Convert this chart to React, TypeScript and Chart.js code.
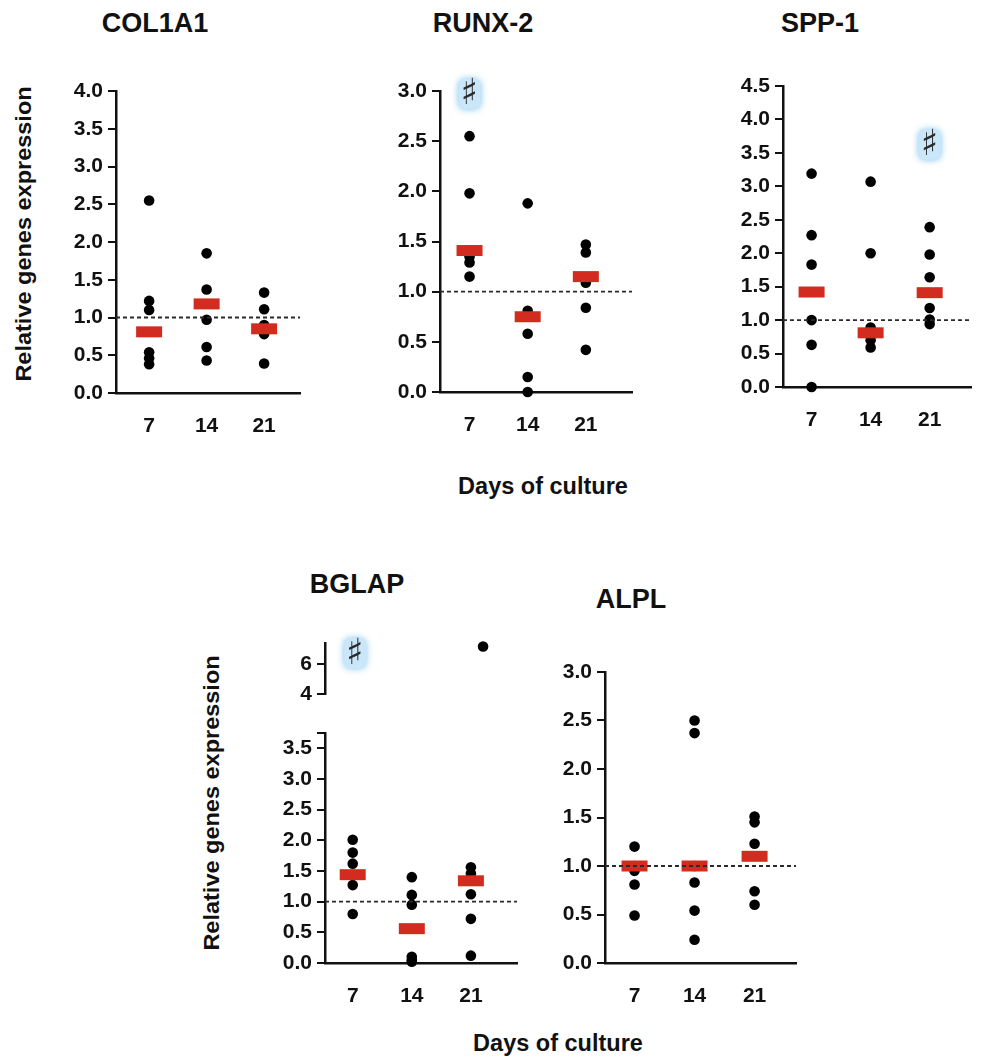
import React, { useEffect, useRef } from 'react';
import { Chart, registerables } from 'chart.js';

Chart.register(...registerables);

// ---------- data ----------
const days = ['7', '14', '21'];

const col1a1Day7 = [2.55, 1.22, 1.1, 0.54, 0.46, 0.38];
const col1a1Day14 = [1.85, 1.37, 0.97, 0.61, 0.43];
const col1a1Day21 = [1.33, 1.11, 0.9, 0.78, 0.39];
const col1a1Median = [0.81, 1.18, 0.85];

const runx2Day7 = [2.55, 1.98, 1.35, 1.29, 1.15];
const runx2Day14 = [1.88, 0.81, 0.58, 0.15, 0.0];
const runx2Day21 = [1.47, 1.39, 1.09, 0.84, 0.42];
const runx2Median = [1.41, 0.75, 1.15];
const runx2Hash = [{ day: 1, y: 2.97 }];

const spp1Day7 = [3.19, 2.27, 1.83, 1.0, 0.63, 0.0];
const spp1Day14 = [3.07, 2.0, 0.89, 0.7, 0.59];
const spp1Day21 = [2.39, 1.98, 1.64, 1.18, 1.01, 0.94];
const spp1Median = [1.42, 0.81, 1.41];
const spp1Hash = [{ day: 3, y: 3.62 }];

const bglapDay7 = [2.01, 1.8, 1.62, 1.43, 1.27, 0.8];
const bglapDay14 = [1.4, 1.11, 0.95, 0.1, 0.05, 0.02];
const bglapDay21 = [1.56, 1.46, 1.12, 0.72, 0.12];
const bglapDay21High = [7.14];
const bglapMedian = [1.44, 0.56, 1.34];
const bglapHash = [{ day: 1, y: 6.7 }];

const alplDay7 = [1.2, 1.0, 0.95, 0.81, 0.49];
const alplDay14 = [2.5, 2.37, 1.0, 0.83, 0.54, 0.24];
const alplDay21 = [1.51, 1.45, 1.23, 0.74, 0.6];
const alplMedian = [1.0, 1.0, 1.1];

const ticks0to4 = [0, 0.5, 1, 1.5, 2, 2.5, 3, 3.5, 4];
const ticks0to3 = [0, 0.5, 1, 1.5, 2, 2.5, 3];
const ticks0to45 = [0, 0.5, 1, 1.5, 2, 2.5, 3, 3.5, 4, 4.5];
const ticks0to35 = [0, 0.5, 1, 1.5, 2, 2.5, 3, 3.5];
const ticksHigh = [4, 6];
const referenceLevel = 1;

// ---------- styles ----------
const WY = 70;
const HX = 44;
const PT = 18;
const PR = 8;
const RED = '#d22b1f';
const INK = '#111';

type Box = { axisX: number; areaTop: number; areaBottom: number; areaRight: number };
type PanelCfg = {
  groups: number[][];
  medians?: number[];
  hashes?: { day: number; y: number }[];
  yTicks: number[];
  yMin: number;
  yMax: number;
  xMin: number;
  xMax: number;
  box: Box;
  showX: boolean;
  refLine: boolean;
  capTick?: boolean;
  decimals: number;
};

const panels: PanelCfg[] = [
  {
    groups: [col1a1Day7, col1a1Day14, col1a1Day21], medians: col1a1Median,
    yTicks: ticks0to4, yMin: 0, yMax: 4, xMin: 0.424, xMax: 3.624,
    box: { axisX: 116, areaTop: 85, areaBottom: 393, areaRight: 316 },
    showX: true, refLine: true, decimals: 1,
  },
  {
    groups: [runx2Day7, runx2Day14, runx2Day21], medians: runx2Median, hashes: runx2Hash,
    yTicks: ticks0to3, yMin: 0, yMax: 3, xMin: 0.492, xMax: 3.794,
    box: { axisX: 440, areaTop: 85, areaBottom: 392, areaRight: 648 },
    showX: true, refLine: true, decimals: 1,
  },
  {
    groups: [spp1Day7, spp1Day14, spp1Day21], medians: spp1Median, hashes: spp1Hash,
    yTicks: ticks0to45, yMin: 0, yMax: 4.5, xMin: 0.516, xMax: 3.7,
    box: { axisX: 783, areaTop: 80, areaBottom: 387, areaRight: 987 },
    showX: true, refLine: true, decimals: 1,
  },
  {
    groups: [[], [], bglapDay21High], hashes: bglapHash,
    yTicks: ticksHigh, yMin: 4, yMax: 7.37, xMin: 0.531, xMax: 3.78,
    box: { axisX: 325, areaTop: 643, areaBottom: 702, areaRight: 533 },
    showX: false, refLine: false, decimals: 0,
  },
  {
    groups: [bglapDay7, bglapDay14, bglapDay21], medians: bglapMedian,
    yTicks: ticks0to35, yMin: 0, yMax: 3.75, xMin: 0.531, xMax: 3.78,
    box: { axisX: 325, areaTop: 727, areaBottom: 963, areaRight: 533 },
    showX: true, refLine: true, capTick: true, decimals: 1,
  },
  {
    groups: [alplDay7, alplDay14, alplDay21], medians: alplMedian,
    yTicks: ticks0to3, yMin: 0, yMax: 3, xMin: 0.508, xMax: 3.69,
    box: { axisX: 605, areaTop: 666, areaBottom: 963, areaRight: 812 },
    showX: true, refLine: true, decimals: 1,
  },
];

function ChartPanel({ cfg }: { cfg: PanelCfg }) {
  const ref = useRef<HTMLCanvasElement>(null);
  const { axisX, areaTop, areaBottom, areaRight } = cfg.box;
  const hx = cfg.showX ? HX : 0;
  const pb = cfg.showX ? 0 : 10;
  const left = axisX - WY;
  const top = areaTop - PT;
  const width = areaRight - axisX + WY + PR;
  const height = areaBottom - areaTop + PT + hx + pb;

  useEffect(() => {
    if (!ref.current) return;
    const points = cfg.groups.flatMap((g, i) => g.map((v) => ({ x: i + 1, y: v })));
    const datasets: any[] = [];
    if (cfg.refLine) {
      datasets.push({
        type: 'line',
        data: [
          { x: cfg.xMin, y: referenceLevel },
          { x: cfg.xMax, y: referenceLevel },
        ],
        borderColor: '#2a2a2a',
        borderWidth: 1.8,
        borderDash: [4, 3],
        pointRadius: 0,
        clip: false,
      });
    }
    if (cfg.medians) {
      datasets.push({
        type: 'scatter',
        data: cfg.medians.map((v, i) => ({ x: i + 1, y: v })),
        pointStyle: 'line',
        pointRadius: 13,
        pointBorderWidth: 11,
        pointBorderColor: RED,
        pointBackgroundColor: RED,
        clip: false,
      });
    }
    datasets.push({
      type: 'scatter',
      data: points,
      pointRadius: 5.3,
      pointBackgroundColor: '#000',
      pointBorderColor: '#000',
      pointBorderWidth: 0,
      clip: false,
    });

    const hashPlugin = {
      id: 'hashMarks',
      afterDatasetsDraw(chart: any) {
        const marks = cfg.hashes || [];
        const ctx = chart.ctx;
        marks.forEach((m) => {
          const px = chart.scales.x.getPixelForValue(m.day);
          const py = chart.scales.y.getPixelForValue(m.y);
          ctx.save();
          ctx.shadowColor = 'rgba(110,185,235,0.9)';
          ctx.shadowBlur = 7;
          ctx.fillStyle = '#c9e7f9';
          ctx.beginPath();
          if ((ctx as any).roundRect) (ctx as any).roundRect(px - 11, py - 15, 22, 30, 6);
          else ctx.rect(px - 11, py - 15, 22, 30);
          ctx.fill();
          ctx.shadowBlur = 0;
          ctx.fillStyle = '#2a2a2a';
          ctx.font = 'bold 36px "DejaVu Sans"';
          ctx.textAlign = 'center';
          ctx.textBaseline = 'middle';
          ctx.fillText('\u266F', px, py + 1);
          ctx.restore();
        });
      },
    };

    const yTickValues = cfg.capTick ? [...cfg.yTicks, cfg.yMax] : cfg.yTicks;

    const chart = new Chart(ref.current, {
      type: 'scatter',
      data: { datasets },
      plugins: [hashPlugin],
      options: {
        animation: false,
        responsive: false,
        devicePixelRatio: 1,
        layout: { padding: { top: PT, right: PR, left: 0, bottom: pb } },
        plugins: { legend: { display: false }, tooltip: { enabled: false } },
        scales: {
          x: {
            type: 'linear',
            display: cfg.showX,
            min: cfg.xMin,
            max: cfg.xMax,
            afterBuildTicks: (s: any) => {
              s.ticks = days.map((_, i) => ({ value: i + 1 }));
            },
            afterFit: (s: any) => {
              s.height = cfg.showX ? HX : 0;
            },
            ticks: {
              autoSkip: false,
              maxRotation: 0,
              padding: 13,
              color: INK,
              font: { family: '"Liberation Sans", Arial', weight: 'bold', size: 21 },
              callback: (v: any) => days[Math.round(v) - 1] ?? '',
            },
            grid: { display: false },
            border: { display: true, color: INK, width: 2.5 },
          },
          y: {
            type: 'linear',
            min: cfg.yMin,
            max: cfg.yMax,
            afterBuildTicks: (s: any) => {
              s.ticks = yTickValues.map((v) => ({ value: v }));
            },
            afterFit: (s: any) => {
              s.width = WY;
            },
            ticks: {
              padding: 5,
              color: INK,
              font: { family: '"Liberation Sans", Arial', weight: 'bold', size: 21 },
              callback: (v: any) => (cfg.yTicks.includes(v) ? Number(v).toFixed(cfg.decimals) : ''),
            },
            grid: {
              display: true,
              drawOnChartArea: false,
              drawTicks: true,
              tickLength: 8,
              color: INK,
              lineWidth: 2,
            },
            border: { display: true, color: INK, width: 2.5 },
          },
        },
      } as any,
    });
    return () => chart.destroy();
  }, []);

  return (
    <canvas
      ref={ref}
      width={width}
      height={height}
      style={{ position: 'absolute', left, top, width, height }}
    />
  );
}

const titleStyle = (cx: number, cy: number, size: number): React.CSSProperties => ({
  position: 'absolute',
  left: cx,
  top: cy,
  transform: 'translate(-50%, -50%)',
  font: `bold ${size}px "Liberation Sans", Arial, sans-serif`,
  lineHeight: 1,
  whiteSpace: 'nowrap',
  color: '#111',
});

const yLabelStyle = (cx: number, cy: number): React.CSSProperties => ({
  position: 'absolute',
  left: cx,
  top: cy,
  transform: 'translate(-50%, -50%) rotate(-90deg) scaleY(0.9)',
  font: 'bold 23.5px "Liberation Sans", Arial, sans-serif',
  lineHeight: 1,
  whiteSpace: 'nowrap',
  color: '#111',
});

export default function App() {
  return (
    <div
      style={{
        position: 'absolute',
        left: 0,
        top: 0,
        width: 987,
        height: 1060,
        overflow: 'hidden',
        background: '#fff',
      }}
    >
      {panels.map((p, i) => (
        <ChartPanel key={i} cfg={p} />
      ))}
      <div style={titleStyle(155, 23, 27)}>COL1A1</div>
      <div style={titleStyle(483, 23, 27)}>RUNX-2</div>
      <div style={titleStyle(820, 23, 27)}>SPP-1</div>
      <div style={titleStyle(357, 584, 27)}>BGLAP</div>
      <div style={titleStyle(631, 599, 27)}>ALPL</div>
      <div style={titleStyle(543, 487, 23.5)}>Days of culture</div>
      <div style={titleStyle(558, 1044, 23.5)}>Days of culture</div>
      <div style={yLabelStyle(24, 234)}>Relative genes expression</div>
      <div style={yLabelStyle(212, 803)}>Relative genes expression</div>
    </div>
  );
}
